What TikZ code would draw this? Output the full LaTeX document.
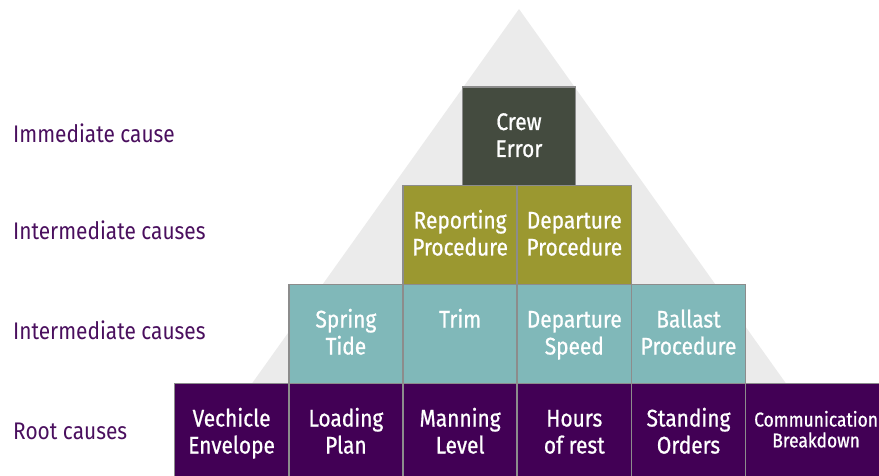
\documentclass[tikz,border=0pt]{standalone}
\usepackage{fontspec}
\setmainfont[FakeStretch=0.87]{Fira Sans}
\newfontfamily\boxfont[FakeStretch=0.87,FakeBold=0.8]{Fira Sans}
\definecolor{crewc}{HTML}{444B3F}
\definecolor{olivec}{HTML}{9B9830}
\definecolor{tealc}{HTML}{80B8B9}
\definecolor{purplec}{HTML}{420055}
\definecolor{labelc}{HTML}{4A0F5E}
\definecolor{borderc}{HTML}{8C8C8C}
\definecolor{trianglec}{HTML}{EBEBEB}
\newcommand\twol[2]{\begin{tabular}[t]{@{}c@{}}#1\\#2\end{tabular}}
\newcommand\mycell[6]{%
  \node[cellbox, fill=#4, minimum width=#6] (#1) at (#2,#3) {};
  \node[celltext] (#1t) at ([yshift=-43pt]#1.north) {#5};}
\begin{document}
\begin{tikzpicture}[x=1pt,y=-1pt,
  cellbox/.style={draw=borderc, line width=1.5pt, minimum width=114.2pt, minimum height=98.8pt, inner sep=0pt, outer sep=0pt, anchor=north west},
  celltext/.style={text=white, anchor=base, inner sep=0pt, font=\boxfont\fontsize{24}{27}\selectfont},
  smalltext/.style={text=white, anchor=base, inner sep=0pt, font=\boxfont\fontsize{20}{19.5}\selectfont},
  rowlabel/.style={text=labelc, anchor=base west, inner sep=0pt, font=\fontsize{24}{27}\selectfont}]
\useasboundingbox (0,0) rectangle (879,476);
\clip (0,0) rectangle (879,476);
\fill[trianglec] (519,9) -- (852,476) -- (186,476) -- cycle;
% labels
\node[rowlabel] (l1) at (13,142.7) {Immediate cause};
\node[rowlabel] (l2) at (13,239.3) {Intermediate causes};
\node[rowlabel] (l3) at (13,339.3) {Intermediate causes};
\node[rowlabel] (l4) at (13,439.3) {Root causes};
% top
\mycell{crew}{462.5}{87}{crewc}{\twol{Crew}{Error}}{113pt}
% row 2
\mycell{rep}{403}{185.5}{olivec}{\twol{Reporting}{Procedure}}{114.2pt}
\mycell{dep}{517.2}{185.5}{olivec}{\twol{Departure}{Procedure}}{114.2pt}
% row 3
\mycell{spring}{288.8}{284.5}{tealc}{\twol{Spring}{Tide}}{114.2pt}
\mycell{trim}{403}{284.5}{tealc}{Trim}{114.2pt}
\mycell{dspeed}{517.2}{284.5}{tealc}{\twol{Departure}{Speed}}{114.2pt}
\mycell{ballast}{631.4}{284.5}{tealc}{\twol{Ballast}{Procedure}}{114.2pt}
% row 4
\mycell{veh}{174.5}{383.5}{purplec}{\twol{Vechicle}{Envelope}}{114.2pt}
\mycell{load}{288.8}{383.5}{purplec}{\twol{Loading}{Plan}}{114.2pt}
\mycell{man}{403}{383.5}{purplec}{\twol{Manning}{Level}}{114.2pt}
\mycell{hours}{517.2}{383.5}{purplec}{\twol{Hours}{of rest}}{114.2pt}
\mycell{stand}{631.4}{383.5}{purplec}{\twol{Standing}{Orders}}{114.2pt}
\node[cellbox, fill=purplec, minimum width=141pt] (comm) at (745.6,383.5) {};
\node[smalltext] (commt) at ([yshift=-43pt]comm.north) {\twol{Communication}{Breakdown}};
\end{tikzpicture}
\end{document}
